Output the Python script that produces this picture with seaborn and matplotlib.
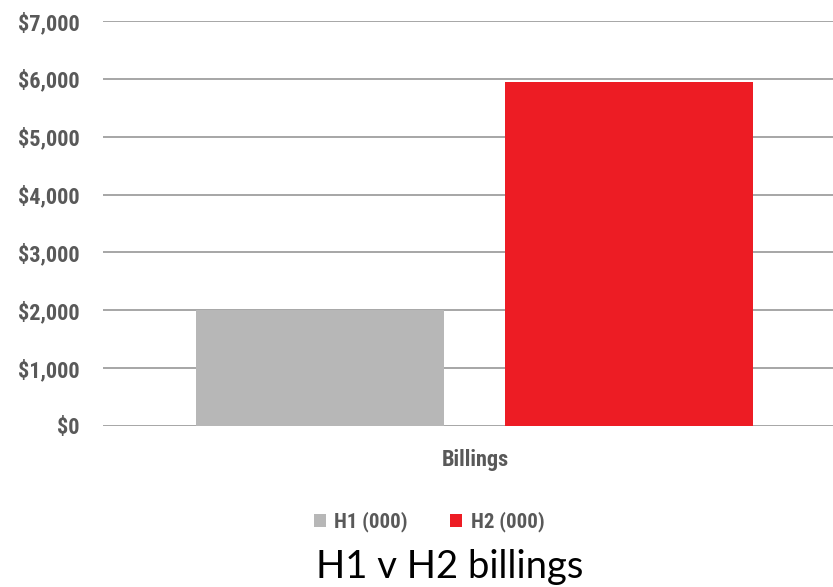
import matplotlib
matplotlib.use("Agg")
import matplotlib.pyplot as plt
from matplotlib import font_manager
from matplotlib.ticker import FuncFormatter, MultipleLocator
import seaborn as sns
import pandas as pd

categories = ["Billings"]
series = ["H1 (000)", "H2 (000)"]
h1_values = [2000]
h2_values = [5950]
colors = ["#b7b7b7", "#ed1c24"]
title = "H1 v H2 billings"

sns.set_theme(style="white")

avail = {f.name for f in font_manager.fontManager.ttflist}
cond = next((f for f in ["Liberation Sans Narrow", "Roboto Condensed", "Roboto", "Liberation Sans"] if f in avail), "DejaVu Sans")
title_font = next((f for f in ["Lato", "Open Sans"] if f in avail), "DejaVu Sans")
plt.rcParams["font.family"] = [cond, "DejaVu Sans"]

df = pd.DataFrame({
    "category": categories * 2,
    "series": [series[0]] * len(categories) + [series[1]] * len(categories),
    "value": h1_values + h2_values,
})

fig = plt.figure(figsize=(8.33, 5.87), dpi=100)
ax = fig.add_axes([103 / 833, 1 - 426 / 587, 1 - 103 / 833, (426 - 21) / 587])

sns.barplot(data=df, x="category", y="value", hue="series", palette=colors,
            width=0.8, gap=0.2, ax=ax, saturation=1, legend=True, errorbar=None,
            linewidth=0)

ax.set_ylim(0, 7000)
ax.set_xlim(-0.481, 0.464)
ax.yaxis.set_major_locator(MultipleLocator(1000))
ax.yaxis.set_major_formatter(FuncFormatter(lambda v, p: f"${int(v):,}"))
ax.set_axisbelow(True)
ax.grid(axis="y", color="#a6a6a6", linewidth=1.4)
for s in ax.spines.values():
    s.set_visible(False)
ax.tick_params(axis="y", length=0, pad=17, labelsize=16, labelcolor="#595959")
ax.tick_params(axis="x", length=0, pad=0)
for lbl in ax.get_yticklabels():
    lbl.set_fontweight("bold")
ax.set_xticks([])
ax.set_ylabel("")
ax.set_xlabel("Billings", fontsize=16, color="#595959", fontweight="bold", labelpad=14)
ax.xaxis.set_label_coords((475 - 103) / 730, -0.057)

leg = ax.legend(loc="center", bbox_to_anchor=(429 / 833, 1 - 522 / 587),
                bbox_transform=fig.transFigure, ncol=2, frameon=False,
                handlelength=0.6, handleheight=0.6, handletextpad=0.4,
                columnspacing=2.0, prop={"size": 15, "weight": "bold", "family": [cond, "DejaVu Sans"]})
for t in leg.get_texts():
    t.set_color("#595959")

fig.text(450 / 833, 1 - 567 / 587, title, ha="center", va="center",
         fontsize=27.5, color="black", family=[title_font, "DejaVu Sans"])

fig.savefig("out.png", dpi=100)
